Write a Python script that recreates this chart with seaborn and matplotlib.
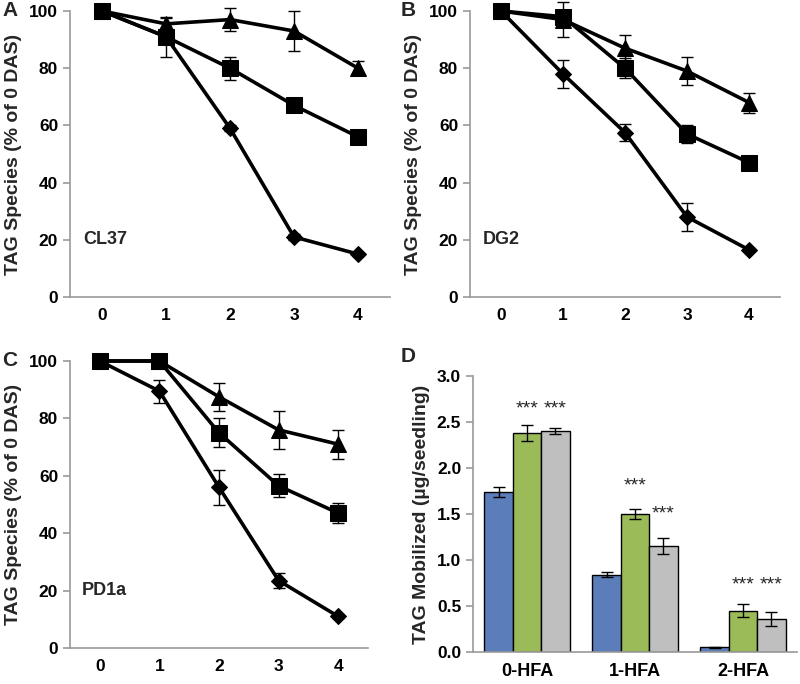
import matplotlib
matplotlib.use("Agg")
import matplotlib.pyplot as plt
import seaborn as sns
import pandas as pd
import numpy as np

sns.set_style("white")
plt.rcParams['font.family'] = ['Liberation Sans', 'DejaVu Sans']
plt.rcParams['font.weight'] = 'bold'

days = [0, 1, 2, 3, 4]
# Panel A: CL37
a_diamond = [100, 91, 59, 21, 15]
a_diamond_err = [0, 0, 1, 1, 0.5]
a_square = [100, 91, 80, 67, 56]
a_square_err = [0, 7, 4, 1, 1]
a_triangle = [100, 95.5, 97, 93, 80]
a_triangle_err = [0, 2, 4, 7, 2.5]
# Panel B: DG2
b_diamond = [100, 78, 57.5, 28, 16.5]
b_diamond_err = [0, 5, 3, 5, 0.5]
b_square = [100, 98, 80, 57, 47]
b_square_err = [0, 1, 3.5, 3, 1]
b_triangle = [100, 97, 87, 79, 68]
b_triangle_err = [0, 6, 4.5, 5, 3.5]
# Panel C: PD1a
c_diamond = [100, 89.5, 56, 23.5, 11]
c_diamond_err = [0, 4, 6, 2.5, 0.5]
c_square = [100, 100, 75, 56.5, 47]
c_square_err = [0, 2, 5, 4, 3.5]
c_triangle = [100, 100, 87.5, 76, 71]
c_triangle_err = [0, 2, 5, 6.5, 5]

panel_names = ["CL37", "DG2", "PD1a"]

# Panel D
groups = ["0-HFA", "1-HFA", "2-HFA"]
d_blue = [1.74, 0.84, 0.05]
d_blue_err = [0.05, 0.03, 0.005]
d_green = [2.38, 1.50, 0.45]
d_green_err = [0.09, 0.05, 0.07]
d_gray = [2.40, 1.15, 0.36]
d_gray_err = [0.03, 0.09, 0.08]
d_stars_green = [2.64, 1.81, 0.73]
d_stars_gray = [2.64, 1.50, 0.73]

W, H = 800, 684
fig = plt.figure(figsize=(8, 6.84), dpi=100)

def ax_at(x0, y0, x1, y1):
    return fig.add_axes([x0 / W, 1 - y1 / H, (x1 - x0) / W, (y1 - y0) / H])

axA = ax_at(70, 11, 390, 297)
axB = ax_at(470, 11, 780, 297)
axC = ax_at(70, 361, 368, 648)
axD = ax_at(473, 376, 797, 652)

spine_col = '#999999'

def style_axes(ax):
    for s in ['top', 'right']:
        ax.spines[s].set_visible(False)
    for s in ['left', 'bottom']:
        ax.spines[s].set_color(spine_col)
        ax.spines[s].set_linewidth(1.2)
    ax.tick_params(axis='both', which='both', colors=spine_col, length=5, width=1.2,
                   labelcolor='black', labelsize=12.5, direction='out')
    ax.tick_params(axis='x', which='major', length=0, pad=8)
    ax.tick_params(axis='x', which='minor', length=5)
    ax.tick_params(axis='y', left=True, length=5)
    for lbl in ax.get_xticklabels() + ax.get_yticklabels():
        lbl.set_fontweight('bold')

series_sets = [
    (axA, a_diamond, a_diamond_err, a_square, a_square_err, a_triangle, a_triangle_err),
    (axB, b_diamond, b_diamond_err, b_square, b_square_err, b_triangle, b_triangle_err),
    (axC, c_diamond, c_diamond_err, c_square, c_square_err, c_triangle, c_triangle_err),
]

for (ax, dv, de, sv, se, tv, te), name in zip(series_sets, panel_names):
    for vals, errs, mk, ms in [(dv, de, 'D', 8), (sv, se, 's', 11), (tv, te, '^', 11)]:
        df = pd.DataFrame({'day': days, 'val': vals})
        sns.lineplot(data=df, x='day', y='val', ax=ax, color='black', linewidth=2.6,
                     marker=mk, markersize=ms, markeredgecolor='black', clip_on=False,
                     zorder=3)
        ax.errorbar(days, vals, yerr=errs, fmt='none', ecolor='black', elinewidth=1,
                    capsize=4, capthick=1, zorder=2, clip_on=False)
    ax.set_xlim(-0.5, 4.5)
    ax.set_ylim(0, 100)
    ax.set_yticks([0, 20, 40, 60, 80, 100])
    ax.set_xticks(days)
    ax.set_xticklabels([str(d) for d in days])
    ax.set_xticks([-0.5, 0.5, 1.5, 2.5, 3.5, 4.5], minor=True)
    ax.set_xlabel('')
    ax.set_ylabel('TAG Species (% of 0 DAS)', fontsize=14, fontweight='bold', labelpad=5)
    ax.text(-0.3, 20, name, fontsize=13, fontweight='bold', va='center', ha='left')
    style_axes(ax)

# Panel D bars
dfD = pd.DataFrame({
    'group': groups * 3,
    'line': ['blue'] * 3 + ['green'] * 3 + ['gray'] * 3,
    'val': d_blue + d_green + d_gray,
})
pal = {'blue': '#5B7DBA', 'green': '#9BBB59', 'gray': '#BFBFBF'}
sns.barplot(data=dfD, x='group', y='val', hue='line', palette=pal, ax=axD,
            width=0.79, edgecolor='black', linewidth=1, legend=False, errorbar=None,
            saturation=1)
errs_all = [d_blue_err, d_green_err, d_gray_err]
vals_all = [d_blue, d_green, d_gray]
for cont, vals, errs in zip(axD.containers, vals_all, errs_all):
    xs = [b.get_x() + b.get_width() / 2 for b in cont]
    axD.errorbar(xs, vals, yerr=errs, fmt='none', ecolor='black', elinewidth=1,
                 capsize=4, capthick=1, zorder=5)
    if vals is d_green:
        x_green = xs
    if vals is d_gray:
        x_gray = xs
for xs, ys in [(x_green, d_stars_green), (x_gray, d_stars_gray)]:
    for x, y in zip(xs, ys):
        axD.text(x, y, '***', ha='center', va='center', fontsize=14, fontweight='normal')

axD.set_xlim(-0.5, 2.5)
axD.set_ylim(0, 3.0)
axD.set_yticks([0, 0.5, 1.0, 1.5, 2.0, 2.5, 3.0])
axD.set_yticklabels(['%.1f' % v for v in [0, 0.5, 1.0, 1.5, 2.0, 2.5, 3.0]])
axD.set_xticks([-0.5, 0.5, 1.5, 2.5], minor=True)
axD.set_xlabel('')
axD.set_ylabel('TAG Mobilized (µg/seedling)', fontsize=14, fontweight='bold', labelpad=5)
style_axes(axD)
axD.tick_params(axis='x', which='major', labelsize=13)

for lbl, (x, y) in zip(['A', 'B', 'C', 'D'], [(2, 11), (401, 11), (2, 361), (401, 357)]):
    fig.text(x / W, 1 - y / H, lbl, fontsize=15, fontweight='bold', va='center', ha='left')

fig.savefig('out.png', dpi=100)
